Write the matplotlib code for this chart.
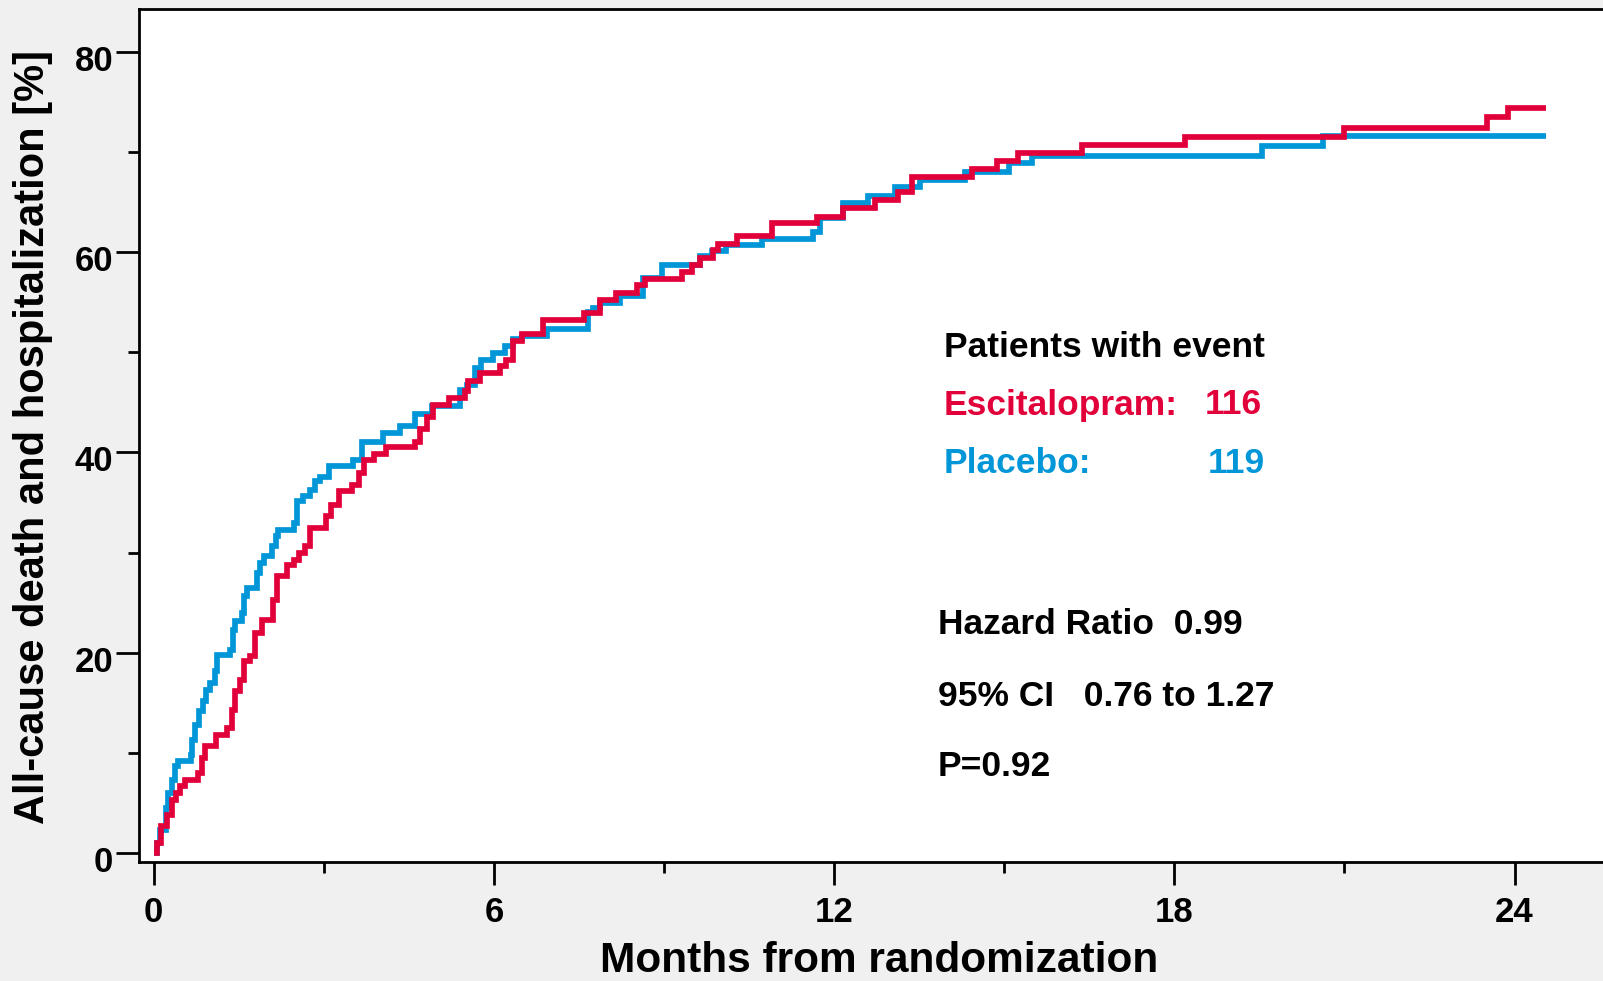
import matplotlib
matplotlib.use("Agg")
import matplotlib.pyplot as plt
from matplotlib.ticker import MultipleLocator
from matplotlib.transforms import ScaledTranslation

# Cumulative incidence (%) of all-cause death and hospitalization, step points
months_escitalopram = [0.00, 0.05, 0.12, 0.24, 0.32, 0.40, 0.47, 0.56, 0.78, 0.85,
                       0.91, 1.09, 1.29, 1.38, 1.44, 1.53, 1.59, 1.70, 1.79, 1.91,
                       2.10, 2.18, 2.35, 2.47, 2.56, 2.67, 2.76, 3.03, 3.12, 3.26,
                       3.50, 3.62, 3.70, 3.88, 4.09, 4.61, 4.70, 4.82, 4.93, 5.20,
                       5.49, 5.55, 5.75, 6.11, 6.22, 6.34, 6.49, 6.87, 7.58, 7.87,
                       8.16, 8.52, 8.66, 9.31, 9.50, 9.63, 9.87, 9.96, 10.28, 10.90,
                       11.69, 12.16, 12.72, 13.13, 13.37, 14.43, 14.87, 15.25, 16.38, 18.18,
                       21.00, 23.51, 23.88]
pct_escitalopram = [0.0, 1.0, 2.7, 3.8, 5.3, 6.0, 6.7, 7.3, 8.0, 9.5,
                    10.7, 11.8, 12.5, 14.3, 16.2, 17.3, 19.2, 19.7, 22.0, 23.3,
                    25.3, 27.7, 28.8, 29.3, 30.0, 30.7, 32.5, 33.7, 34.8, 36.2,
                    36.8, 38.0, 39.2, 39.8, 40.5, 41.0, 42.3, 43.5, 44.7, 45.4,
                    46.1, 47.1, 47.9, 48.6, 49.2, 51.1, 51.8, 53.2, 53.9, 55.2,
                    55.9, 56.7, 57.3, 58.0, 58.7, 59.4, 60.2, 60.8, 61.6, 62.9,
                    63.5, 64.4, 65.2, 66.0, 67.5, 68.3, 69.1, 69.9, 70.7, 71.5,
                    72.4, 73.5, 74.4]

months_placebo = [0.00, 0.06, 0.11, 0.21, 0.26, 0.32, 0.38, 0.42, 0.65, 0.68,
                  0.72, 0.79, 0.86, 0.93, 1.00, 1.08, 1.12, 1.35, 1.40, 1.44,
                  1.56, 1.59, 1.65, 1.82, 1.88, 1.94, 2.09, 2.15, 2.20, 2.47,
                  2.52, 2.63, 2.75, 2.85, 2.94, 3.09, 3.52, 3.67, 4.05, 4.34,
                  4.61, 4.90, 5.40, 5.52, 5.67, 5.78, 5.99, 6.19, 6.34, 6.49,
                  6.93, 7.66, 7.75, 7.87, 8.22, 8.63, 8.96, 9.63, 9.84, 10.10,
                  10.72, 11.63, 11.75, 12.16, 12.60, 13.07, 13.52, 14.31, 15.08, 15.49,
                  19.54, 20.62]
pct_placebo = [0.0, 1.0, 2.3, 4.5, 6.0, 7.3, 8.7, 9.2, 9.8, 11.3,
               12.8, 14.2, 15.2, 16.3, 17.0, 18.2, 19.8, 20.3, 22.3, 23.2,
               24.0, 25.7, 26.5, 28.0, 29.0, 29.7, 30.7, 31.7, 32.3, 33.0,
               35.2, 35.7, 36.3, 37.2, 37.6, 38.7, 39.2, 41.0, 41.9, 42.6,
               43.8, 44.6, 46.2, 46.7, 48.4, 49.2, 49.9, 50.6, 51.3, 51.6,
               52.3, 54.0, 54.4, 54.9, 55.6, 57.4, 58.7, 59.6, 60.1, 60.7,
               61.3, 62.0, 63.4, 64.9, 65.6, 66.5, 67.2, 68.0, 68.9, 69.6,
               70.6, 71.6]

follow_up_end = 24.56

events_escitalopram = 116
events_placebo = 119
hazard_ratio = "0.99"
ci_text = "0.76 to 1.27"
p_text = "P=0.92"

x_major = [0, 6, 12, 18, 24]
y_major = [0, 20, 40, 60, 80]

RED = "#E2003A"
BLUE = "#0096D7"
BG = "#F0F0F0"

plt.rcParams["font.family"] = ["Liberation Sans", "DejaVu Sans"]
plt.rcParams["font.weight"] = "bold"

W, H = 1603, 981
fig = plt.figure(figsize=(W / 100, H / 100), dpi=100, facecolor=BG)

left_px, right_px, top_px, bottom_px = 139, 1603, 9, 862
ax = fig.add_axes([left_px / W, 1 - bottom_px / H,
                   (right_px - left_px) / W, (bottom_px - top_px) / H])
ax.set_facecolor("white")


def stepped(months, pct):
    return list(months) + [follow_up_end], list(pct) + [pct[-1]]


xb, yb = stepped(months_placebo, pct_placebo)
xr, yr = stepped(months_escitalopram, pct_escitalopram)
ax.plot(xb, yb, drawstyle="steps-post", color=BLUE, lw=4.1,
        solid_joinstyle="miter", solid_capstyle="butt")
ax.plot(xr, yr, drawstyle="steps-post", color=RED, lw=4.1,
        solid_joinstyle="miter", solid_capstyle="butt")

ax.set_xlim(-0.26, 25.56)
ax.set_ylim(-0.87, 84.26)

ax.set_xticks(x_major)
ax.set_yticks(y_major)
ax.xaxis.set_minor_locator(MultipleLocator(3))
ax.yaxis.set_minor_locator(MultipleLocator(10))
ax.tick_params(which="major", direction="out", length=16.5, width=2.0,
               labelsize=25, color="black")
ax.tick_params(which="minor", direction="out", length=8, width=2.0)
ax.tick_params(axis="x", which="major", pad=8)
ax.tick_params(axis="y", which="major", pad=2.0)
shift_down = ScaledTranslation(0, -0.06, fig.dpi_scale_trans)
for lab in ax.get_yticklabels():
    lab.set_transform(lab.get_transform() + shift_down)
for lab in ax.get_xticklabels() + ax.get_yticklabels():
    lab.set_fontweight("bold")

for side in ("left", "bottom", "top"):
    ax.spines[side].set_linewidth(2.0)
ax.spines["right"].set_visible(False)

ax.set_xlabel("Months from randomization", fontsize=30.5, fontweight="bold",
              va="baseline")
ax.xaxis.set_label_coords(879 / W, 1 - 972 / H, transform=fig.transFigure)
ax.set_ylabel("All-cause death and hospitalization [%]", fontsize=30,
              fontweight="bold", va="center")
ax.yaxis.set_label_coords(33 / W, 1 - 437 / H, transform=fig.transFigure)

fs = 25.5
tx = 944 / W
fig.text(tx, 1 - 357 / H, "Patients with event", fontsize=fs,
         fontweight="bold", color="black", va="baseline")
fig.text(tx, 1 - 414.5 / H, "Escitalopram:", fontsize=fs,
         fontweight="bold", color=RED, va="baseline")
fig.text(1262 / W, 1 - 414.5 / H, str(events_escitalopram), fontsize=fs,
         fontweight="bold", color=RED, va="baseline", ha="right")
fig.text(tx, 1 - 473 / H, "Placebo:", fontsize=fs,
         fontweight="bold", color=BLUE, va="baseline")
fig.text(1265 / W, 1 - 473 / H, str(events_placebo), fontsize=fs,
         fontweight="bold", color=BLUE, va="baseline", ha="right")

sx = 938 / W
fig.text(sx, 1 - 634 / H, "Hazard Ratio  " + hazard_ratio, fontsize=fs,
         fontweight="bold", va="baseline")
fig.text(sx, 1 - 706 / H, "95% CI   " + ci_text, fontsize=fs,
         fontweight="bold", va="baseline")
fig.text(sx, 1 - 776 / H, p_text, fontsize=fs,
         fontweight="bold", va="baseline")

fig.savefig("out.png", dpi=100, facecolor=BG)
